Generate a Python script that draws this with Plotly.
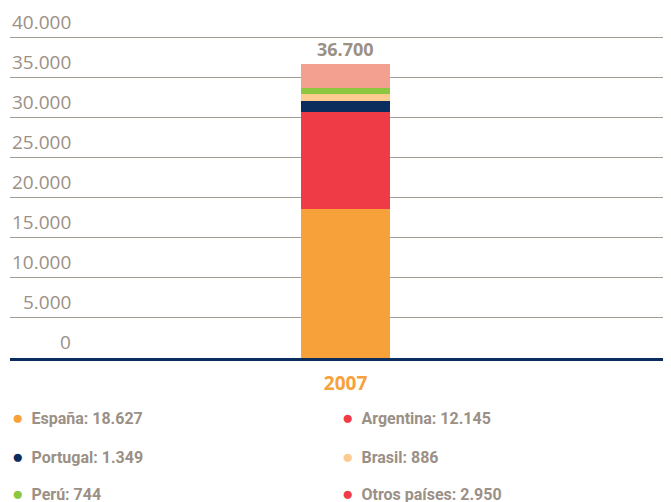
import plotly.graph_objects as go

years = ["2007"]
countries = ["España", "Argentina", "Portugal", "Brasil", "Perú", "Otros países"]
values = [18627, 12145, 1349, 886, 744, 2950]
bar_colors = ["#F7A13A", "#EE3B45", "#0B2D5E", "#FBCB8F", "#8DC63F", "#F4A091"]
dot_colors = ["#F7A13A", "#EE3B45", "#0B2D5E", "#FBCB8F", "#8DC63F", "#EE3B45"]
total = 36700
y_ticks = [0, 5000, 10000, 15000, 20000, 25000, 30000, 35000, 40000]

TEXT = "#9B9086"
GRID = "#A39A90"
NAVY = "#0B2D5E"


def fmt(v):
    return f"{v:,}".replace(",", ".")


fig = go.Figure()
for name, val, col in zip(countries, values, bar_colors):
    fig.add_trace(go.Bar(
        x=years, y=[val], name=name, marker=dict(color=col, line=dict(width=0)),
        width=0.1346, showlegend=False, hoverinfo="skip",
    ))

annotations = []
# y tick labels sit above their gridlines, right-aligned
for t in y_ticks:
    annotations.append(dict(
        text=fmt(t), x=0.0953, xref="paper", y=t, yref="y",
        xanchor="right", yanchor="bottom", yshift=1, showarrow=False,
        font=dict(family="Open Sans", size=19, color=TEXT),
    ))

# total on top of the bar
annotations.append(dict(
    text=fmt(total), x=0, xref="x", y=total, yref="y",
    xanchor="center", yanchor="bottom", yshift=1, showarrow=False,
    font=dict(family="Open Sans", size=18, color=TEXT, weight="bold"),
))

# custom legend, two columns
col_x = [0.0, 0.499]
row_y = [-0.185, -0.305, -0.422]
for i, (name, val, dc) in enumerate(zip(countries, values, dot_colors)):
    annotations.append(dict(
        text=f"<span style='color:{dc};font-size:19px'>●</span>&nbsp; {name}: {fmt(val)}",
        x=col_x[i % 2], xref="paper", y=row_y[i // 2], yref="paper",
        xanchor="left", yanchor="middle", showarrow=False,
        font=dict(family="Roboto", size=16, color=TEXT, weight="bold"),
    ))

# page body has an 8px margin, so the figure is drawn 8px smaller and shifted back
fig.update_layout(
    width=663, height=494,
    margin=dict(l=2, r=0, t=28, b=144),
    paper_bgcolor="white", plot_bgcolor="white",
    barmode="stack", bargap=0,
    xaxis=dict(
        type="category",
        range=[-0.5076, 0.4924], showline=True, linecolor=NAVY, linewidth=2.5,
        showgrid=False, ticks="", ticklabelstandoff=6,
        tickfont=dict(family="Open Sans", size=19, color="#F7A13A", weight="bold"),
    ),
    yaxis=dict(
        range=[0, 40200], dtick=5000, showgrid=True, gridcolor=GRID, gridwidth=1,
        zeroline=False, showticklabels=False, showline=False,
    ),
    annotations=annotations,
)

fig.write_html("out.html")
